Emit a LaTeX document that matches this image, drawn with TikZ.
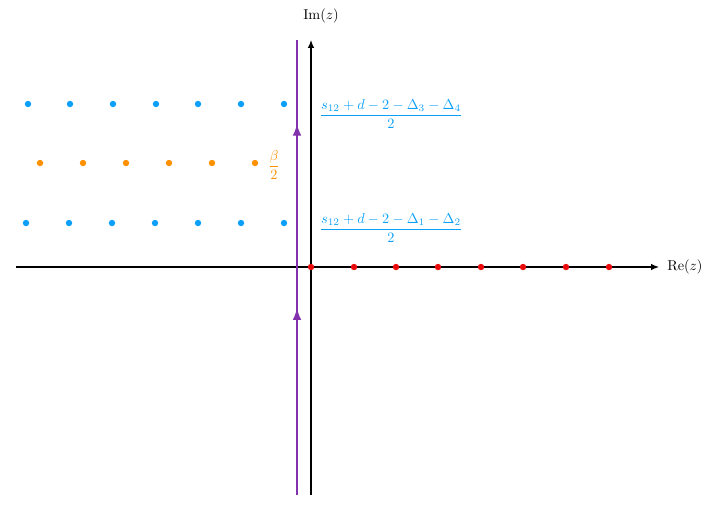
\documentclass[tikz,border=0pt]{standalone}
\usetikzlibrary{arrows.meta,decorations.markings}
\definecolor{dotblue}{RGB}{10,160,250}
\definecolor{dotorange}{RGB}{255,145,0}
\definecolor{dotred}{RGB}{235,10,10}
\definecolor{contour}{RGB}{130,50,172}
\begin{document}
\begin{tikzpicture}[x=0.7pt,y=-0.7pt,
  axis/.style={line width=0.8pt,-{Latex[length=5.5pt,width=4.5pt]}},
  bdot/.style={circle,fill=dotblue,inner sep=0pt,minimum size=4.5pt},
  odot/.style={circle,fill=dotorange,inner sep=0pt,minimum size=4.5pt},
  rdot/.style={circle,fill=dotred,inner sep=0pt,minimum size=4.5pt},
  cont/.style={contour,line width=0.8pt,decoration={markings,
    mark=at position 0.41 with {\arrow{Latex[length=8pt,width=6pt]}},
    mark=at position 0.815 with {\arrow{Latex[length=8pt,width=6pt]}}},postaction={decorate}}]
\useasboundingbox (0,0) rectangle (713,506);
% axes
\coordinate (xl) at (16,267);
\coordinate (xr) at (659,267);
\coordinate (yb) at (311,495);
\coordinate (yt) at (311,40);
\draw[axis] (xl) -- (xr);
\draw[axis] (yb) -- (yt);
\node[anchor=west,inner sep=0pt] (re) at (667,267) {$\mathrm{Re}(z)$};
\node[inner sep=0pt] (im) at (321,16) {$\mathrm{Im}(z)$};
% contour
\coordinate (cb) at (297,495);
\coordinate (ct) at (297,40);
\draw[cont] (cb) -- (ct);
% red dots
\foreach \i [count=\k] in {311,354,396,438,481,523,566,609}
  \node[rdot] (r\k) at (\i,267) {};
% blue dots
\foreach \i [count=\k] in {28,70,113,156,198,241,284}
  \node[bdot] (bt\k) at (\i,104) {};
\foreach \i [count=\k] in {26,69,112,155,198,241,284}
  \node[bdot] (bb\k) at (\i,223) {};
% orange dots
\foreach \i [count=\k] in {40,83,126,169,212,255}
  \node[odot] (o\k) at (\i,163) {};
% labels
\node[text=dotorange,inner sep=0pt] (beta) at (274,165) {$\displaystyle\frac{\beta}{2}$};
\node[text=dotblue,inner sep=0pt] (l1) at (391,114) {$\displaystyle\frac{s_{12}+d-2-\Delta_3-\Delta_4}{2}$};
\node[text=dotblue,inner sep=0pt] (l2) at (391,228) {$\displaystyle\frac{s_{12}+d-2-\Delta_1-\Delta_2}{2}$};
\end{tikzpicture}
\end{document}
